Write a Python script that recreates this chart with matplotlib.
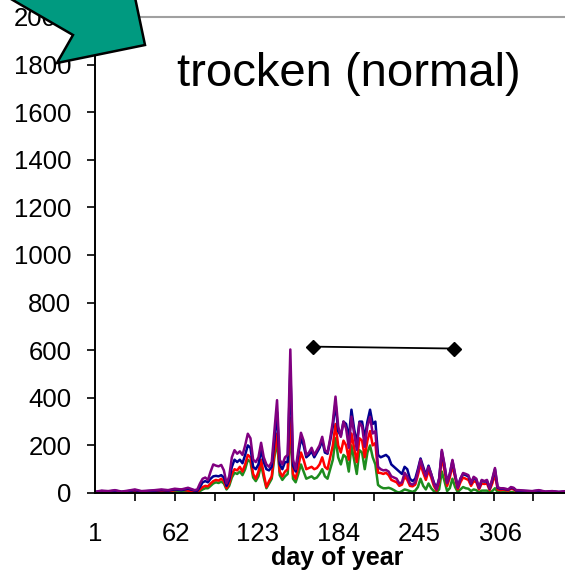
#!/usr/bin/env python3
"""Daily values over the year, four runs, dry (normal) case, with range bar and pointer arrow."""

import matplotlib
matplotlib.use("Agg")
import matplotlib.pyplot as plt
from matplotlib.patches import Polygon

plt.rcParams["font.family"] = ["Liberation Sans", "DejaVu Sans"]

W, H = 565, 573  # output size in pixels at dpi 100

# --- data ---
DAYS = list(range(1, 77, 5)) + list(range(78, 321, 2)) + list(range(325, 366, 5))

PURPLE = (
    [5, 10, 8, 12, 6, 10, 15, 8, 10, 12, 15, 12, 18, 15, 22, 12]
    + [15, 40, 60, 65, 55, 90, 120, 115, 112, 118,
       95, 40, 70, 150, 180, 165, 175, 160, 200, 249,
       230, 140, 130, 150, 211, 150, 120, 110, 130, 260,
       390, 140, 120, 150, 160, 603, 140, 100, 180, 253,
       220, 160, 170, 190, 160, 180, 200, 236, 180, 170,
       230, 300, 405, 280, 236, 300, 270, 190, 321, 250,
       181, 295, 280, 194, 280, 320, 250, 260, 110, 100,
       95, 97, 90, 70, 65, 60, 40, 45, 85, 70,
       40, 35, 45, 90, 140, 100, 70, 110, 80, 40,
       15, 60, 181, 120, 42, 80, 139, 80, 21, 60,
       84, 80, 75, 42, 68, 60, 20, 55, 50, 55,
       20, 60, 105, 25, 20, 20, 18, 15, 25, 22,
       12, 12]
    + [10, 8, 12, 6, 8, 5, 8, 6, 5]
)

BLUE = (
    [4, 8, 6, 10, 5, 8, 12, 6, 8, 10, 12, 10, 15, 12, 18, 10]
    + [10, 25, 45, 50, 45, 60, 70, 72, 70, 75,
       65, 30, 55, 110, 140, 130, 140, 125, 160, 200,
       190, 110, 100, 120, 180, 130, 100, 95, 110, 220,
       340, 120, 100, 130, 130, 520, 115, 90, 160, 230,
       200, 150, 160, 175, 150, 170, 190, 220, 170, 165,
       220, 280, 380, 260, 240, 300, 290, 230, 350, 270,
       210, 300, 300, 230, 300, 350, 290, 300, 160, 150,
       155, 160, 150, 120, 110, 100, 90, 80, 110, 100,
       60, 50, 60, 100, 145, 110, 75, 115, 80, 45,
       20, 60, 175, 115, 45, 80, 135, 75, 25, 60,
       80, 75, 70, 40, 65, 55, 22, 52, 48, 50,
       18, 55, 100, 22, 18, 18, 16, 14, 22, 20,
       10, 10]
    + [8, 7, 10, 5, 7, 4, 6, 5, 4]
)

RED = (
    [3, 5, 4, 6, 3, 5, 8, 4, 5, 6, 8, 6, 12, 15, 10, 8]
    + [5, 15, 25, 30, 28, 40, 50, 55, 52, 60,
       50, 20, 40, 80, 100, 95, 110, 90, 120, 160,
       150, 80, 60, 90, 140, 80, 25, 50, 70, 170,
       250, 90, 70, 90, 100, 316, 80, 60, 110, 170,
       140, 100, 105, 110, 100, 105, 120, 150, 110, 100,
       150, 200, 290, 200, 170, 220, 200, 140, 250, 190,
       130, 230, 220, 150, 220, 260, 200, 210, 85, 84,
       80, 85, 75, 55, 50, 45, 30, 35, 70, 55,
       30, 28, 35, 75, 120, 85, 55, 95, 65, 30,
       10, 45, 150, 95, 30, 65, 115, 65, 15, 45,
       65, 60, 55, 30, 50, 45, 15, 40, 38, 40,
       12, 40, 80, 15, 12, 14, 12, 10, 18, 15,
       8, 8]
    + [6, 5, 7, 4, 5, 3, 5, 4, 3]
)

GREEN = (
    [1, 2, 1, 2, 1, 2, 3, 2, 2, 2, 3, 3, 4, 5, 4, 3]
    + [2, 8, 15, 20, 20, 30, 40, 45, 42, 48,
       40, 15, 30, 65, 85, 80, 90, 75, 100, 140,
       130, 65, 50, 70, 120, 65, 20, 40, 60, 150,
       220, 75, 55, 70, 80, 260, 60, 45, 80, 120,
       90, 60, 65, 70, 60, 65, 80, 100, 70, 60,
       100, 140, 230, 150, 120, 160, 150, 90, 200, 140,
       80, 180, 170, 100, 170, 200, 150, 120, 34, 25,
       20, 20, 22, 18, 12, 5, 2, 8, 15, 12,
       8, 5, 10, 25, 60, 30, 15, 40, 20, 8,
       3, 15, 90, 50, 8, 20, 60, 25, 4, 15,
       25, 20, 18, 8, 15, 12, 3, 10, 10, 10,
       3, 8, 20, 4, 3, 3, 3, 2, 4, 3,
       1, 1]
    + [1, 1, 2, 1, 1, 1, 1, 1, 1]
)

RANGE_DAYS = [165, 271]
RANGE_VALUES = [615, 607]

X_LABEL_DAYS = [1, 62, 123, 184, 245, 306]
X_MARK_DAYS = list(range(1, 366, 30))
Y_TICKS = list(range(0, 2001, 200))

TITLE = "trocken (normal)"
XLABEL = "day of year"

SERIES = [  # drawn bottom to top
    (GREEN, "#1e8c1e"),
    (RED, "#ff0000"),
    (BLUE, "#000090"),
    (PURPLE, "#800080"),
]


def px(x, y):
    """Pixel position (from top-left) -> figure fraction."""
    return x / W, 1 - y / H


def main() -> None:
    fig = plt.figure(figsize=(W / 100, H / 100), dpi=100)
    ax = fig.add_axes([95 / W, 80 / H, 485 / W, 476 / H])

    for values, color in SERIES:
        ax.plot(DAYS, values, color=color, lw=1.8)

    ax.plot(RANGE_DAYS, RANGE_VALUES, color="black", lw=1.3,
            marker="D", markersize=7)

    ax.set_xlim(1, 366)
    ax.set_ylim(0, 2000)
    ax.set_yticks(Y_TICKS)
    ax.set_xticks(X_LABEL_DAYS)
    ax.set_xticks(X_MARK_DAYS, minor=True)
    ax.tick_params(axis="x", which="major", length=0, pad=21, labelsize=18.5)
    ax.tick_params(axis="x", which="minor", length=6, width=1.2, direction="out")
    ax.tick_params(axis="y", length=6, width=1.2, pad=11, labelsize=18.5)
    ax.set_xlabel(XLABEL, fontsize=18, fontweight="bold", labelpad=0)

    ax.spines["right"].set_visible(False)
    ax.spines["left"].set_linewidth(1.4)
    ax.spines["bottom"].set_linewidth(1.4)
    ax.spines["top"].set_color("#a0a0a0")
    ax.spines["top"].set_linewidth(1.5)

    fig.text(*px(349, 86), TITLE, fontsize=34, ha="center", va="baseline")

    # big teal pointer arrow in the top-left corner
    arrow = Polygon([px(57, 63), px(145, 45), px(133, -12), px(-8, -12), px(73, 35)],
                    closed=True, facecolor="#009a80", edgecolor="black", lw=1.8,
                    transform=fig.transFigure, zorder=10)
    fig.add_artist(arrow)

    fig.savefig("out.png", dpi=100)
    plt.close(fig)


if __name__ == "__main__":
    main()
